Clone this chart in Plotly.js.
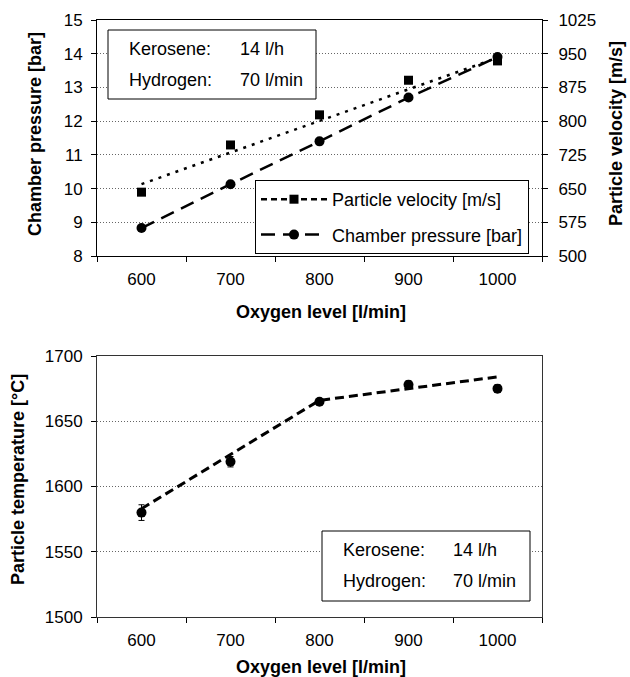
<!DOCTYPE html>
<html>
<head>
<meta charset="utf-8">
<script src="https://cdn.plot.ly/plotly-3.0.1.min.js"></script>
<style>html,body{margin:0;padding:0;background:#fff;}#chart{width:630px;height:677px;}</style>
</head>
<body>
<div id="chart"></div>
<script>
// ---- data ----
const oxygen = [600, 700, 800, 900, 1000];
const velocity = [642, 747, 814, 891, 934];            // m/s (right axis)
const pressure = [8.83, 10.13, 11.4, 12.7, 13.9];       // bar (left axis)
const velTrendX = [600, 1000];
const velTrendY = [660, 941];
const temperature = [1580, 1619, 1665, 1678, 1675];    // °C
const tempErr = [6, 4, 2, 3, 3];
const tempTrendX = [600, 800, 1000];
const tempTrendY = [1583, 1666, 1684];
const xTickLabels = ['600', '700', '800', '900', '1000'];
const xBoundaries = [550, 650, 750, 850, 950, 1050];
const boxLines = [['Kerosene:', '14 l/h'], ['Hydrogen:', '70 l/min']];

// ---- layout helpers (pixel -> paper) ----
const W = 630, H = 677;
const px = x => x / W;
const py = y => 1 - y / H;
const FONT = 'Liberation Sans, Arial, sans-serif';

const traces = [
  { x: velTrendX, y: velTrendY, yaxis: 'y2', xaxis: 'x', mode: 'lines',
    line: { color: '#000', width: 2.5, dash: '3px,6px' }, showlegend: false, hoverinfo: 'skip' },
  { x: oxygen, y: velocity, yaxis: 'y2', xaxis: 'x', mode: 'markers',
    marker: { symbol: 'square', size: 9, color: '#000' }, showlegend: false },
  { x: [null], y: [null], yaxis: 'y2', xaxis: 'x', mode: 'lines+markers', name: 'Particle velocity [m/s]',
    legendgroup: 'a', line: { color: '#000', width: 2.5, dash: '6px,4px' },
    marker: { symbol: 'square', size: 9, color: '#000' } },
  { x: oxygen, y: pressure, yaxis: 'y', xaxis: 'x', mode: 'lines+markers', name: 'Chamber pressure [bar]',
    legendgroup: 'b', line: { color: '#000', width: 2.5, dash: '14px,8px' },
    marker: { symbol: 'circle', size: 10, color: '#000' } },
  { x: tempTrendX, y: tempTrendY, xaxis: 'x2', yaxis: 'y3', mode: 'lines',
    line: { color: '#000', width: 3, dash: '9px,5px' }, showlegend: false, hoverinfo: 'skip' },
  { x: oxygen, y: temperature, xaxis: 'x2', yaxis: 'y3', mode: 'markers',
    marker: { symbol: 'circle', size: 10, color: '#000' },
    error_y: { type: 'data', array: tempErr, visible: true, color: '#000', thickness: 1, width: 3 },
    showlegend: false },
  // carriers for the category label axes
  { x: [null], y: [null], xaxis: 'x3', yaxis: 'y', showlegend: false, hoverinfo: 'skip' },
  { x: [null], y: [null], xaxis: 'x4', yaxis: 'y3', showlegend: false, hoverinfo: 'skip' }
];

const tickFont = { family: FONT, size: 17, color: '#000' };
const xBase = {
  range: [550, 1050], tickmode: 'array', tickvals: xBoundaries, ticktext: xBoundaries.map(() => ''),
  ticks: 'outside', ticklen: 5, tickcolor: '#000', showgrid: false, zeroline: false,
  showline: true, linecolor: '#000', linewidth: 1, mirror: true
};
const xLabels = {
  range: [550, 1050], tickmode: 'array', tickvals: oxygen, ticktext: xTickLabels, ticks: '',
  showgrid: false, zeroline: false, showline: false, tickfont: tickFont, ticklabelstandoff: 11, side: 'bottom'
};
const gridStyle = { showgrid: true, gridcolor: '#666', griddash: '1px,2px', gridwidth: 1 };

const layout = {
  width: W, height: H, margin: { l: 0, r: 0, t: 0, b: 0 },
  paper_bgcolor: '#fff', plot_bgcolor: '#fff', showlegend: true,
  font: { family: FONT, color: '#000' },
  xaxis: Object.assign({}, xBase, { domain: [px(97), px(542)], anchor: 'y' }),
  xaxis3: Object.assign({}, xLabels, { overlaying: 'x', anchor: 'y' }),
  yaxis: Object.assign({ domain: [py(256), py(20)], range: [8, 15], dtick: 1, tick0: 8, ticks: 'outside', ticklen: 5,
    tickcolor: '#000', showline: true, linecolor: '#000', zeroline: false,
    tickfont: tickFont, ticklabelstandoff: 5 }, gridStyle),
  yaxis2: { overlaying: 'y', side: 'right', anchor: 'x', range: [500, 1025], dtick: 75, tick0: 500,
    ticks: 'outside', ticklen: 5, tickcolor: '#000', showline: true, linecolor: '#000', zeroline: false,
    showgrid: false, tickfont: tickFont, ticklabelstandoff: 7 },
  xaxis2: Object.assign({}, xBase, { domain: [px(97), px(542)], anchor: 'y3', linecolor: '#333' }),
  xaxis4: Object.assign({}, xLabels, { overlaying: 'x2', anchor: 'y3' }),
  yaxis3: Object.assign({ domain: [py(617), py(356)], range: [1500, 1700], dtick: 50, tick0: 1500, ticks: 'outside', ticklen: 5,
    tickcolor: '#000', showline: true, linecolor: '#333', mirror: true, zeroline: false,
    tickfont: tickFont, ticklabelstandoff: 5, anchor: 'x2' }, gridStyle),
  legend: { x: px(255), y: py(180), xanchor: 'left', yanchor: 'top', bgcolor: '#fff', bordercolor: '#000',
    borderwidth: 1, font: { family: FONT, size: 18, color: '#000' }, itemwidth: 66, tracegroupgap: 9,
    traceorder: 'grouped' },
  shapes: [
    { type: 'rect', xref: 'paper', yref: 'paper', x0: px(108), x1: px(316), y0: py(99), y1: py(30),
      line: { color: '#000', width: 1 }, fillcolor: '#fff', layer: 'above' },
    { type: 'rect', xref: 'paper', yref: 'paper', x0: px(322), x1: px(530), y0: py(601), y1: py(531),
      line: { color: '#000', width: 1 }, fillcolor: '#fff', layer: 'above' }
  ],
  annotations: []
};

const titleFont = { family: FONT, size: 18, color: '#000' };
function ann(text, x, y, opts) {
  layout.annotations.push(Object.assign({ text: text, xref: 'paper', yref: 'paper', x: px(x), y: py(y),
    showarrow: false, font: titleFont, xanchor: 'center', yanchor: 'middle' }, opts || {}));
}
ann('<b>Oxygen level [l/min]</b>', 321, 312);
ann('<b>Chamber pressure [bar]</b>', 35, 134, { textangle: -90 });
ann('<b>Particle velocity [m/s]</b>', 616, 134, { textangle: -90 });
ann('<b>Oxygen level [l/min]</b>', 321, 667);
ann('<b>Particle temperature [°C]</b>', 18, 480, { textangle: -90 });

const boxFont = { family: FONT, size: 18, color: '#000' };
function box(x1, x2, yRows) {
  boxLines.forEach((row, i) => {
    ann(row[0], x1, yRows[i], { xanchor: 'left', font: boxFont });
    ann(row[1], x2, yRows[i], { xanchor: 'left', font: boxFont });
  });
}
box(127, 238, [49, 80]);
box(341, 451, [550, 581]);

Plotly.newPlot('chart', traces, layout, { displayModeBar: false, staticPlot: true });
</script>
</body>
</html>
